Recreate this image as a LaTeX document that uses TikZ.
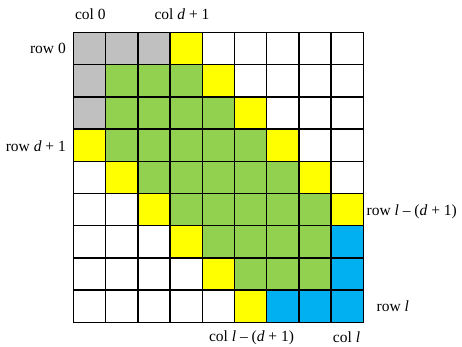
\documentclass[tikz,border=0pt]{standalone}
\usepackage{fontspec}
\setmainfont{Liberation Serif}
\definecolor{cgray}{RGB}{192,192,192}
\definecolor{cgreen}{RGB}{146,208,80}
\definecolor{cyellow}{RGB}{255,255,0}
\definecolor{cblue}{RGB}{0,176,240}
\begin{document}
\begin{tikzpicture}[x=1pt,y=-1pt,
  cell/.style={draw=black,line width=1.4pt,minimum width=32.2pt,minimum height=32.2pt,inner sep=0pt,outer sep=0pt},
  lbl/.style={font=\fontsize{15.5}{18}\selectfont,inner sep=0pt}]
\useasboundingbox (0,0) rectangle (462,346);
\def\gx{73.5}\def\gy{32.5}\def\cs{32.2}
\foreach \r in {0,...,8}{
  \foreach \c in {0,...,8}{
    \pgfmathtruncatemacro{\d}{\r-\c}
    \pgfmathtruncatemacro{\s}{\r+\c}
    \def\col{white}
    \ifnum\d=3 \def\col{cyellow}\fi
    \ifnum\d=-3 \def\col{cyellow}\fi
    \ifnum\d<3 \ifnum\d>-3 \def\col{cgreen}\fi\fi
    \ifnum\s<3 \ifnum\r=0 \def\col{cgray}\fi \ifnum\c=0 \def\col{cgray}\fi\fi
    \ifnum\s>13 \ifnum\r=8 \def\col{cblue}\fi \ifnum\c=8 \def\col{cblue}\fi\fi
    \node[cell,fill=\col] (c-\r-\c) at (\gx+\cs*\c+\cs/2,\gy+\cs*\r+\cs/2) {};
  }
}
\node[lbl] (col0) at (90.3,14) {col 0};
\node[lbl] (cold) at (182,14) {col \textit{d} + 1};
\node[lbl,anchor=east] (row0) at (66,48.6) {row 0};
\node[lbl,anchor=east] (rowd) at (66,146.5) {row \textit{d} + 1};
\node[lbl,anchor=west] (rowld) at (366.5,211.5) {row \textit{l} – (\textit{d} + 1)};
\node[lbl,anchor=west] (rowl) at (376.5,306.5) {row \textit{l}};
\node[lbl] (colld) at (251.5,338) {col \textit{l} – (\textit{d} + 1)};
\node[lbl,anchor=base] (coll) at (346.5,342.5) {col \textit{l}};
\end{tikzpicture}
\end{document}
